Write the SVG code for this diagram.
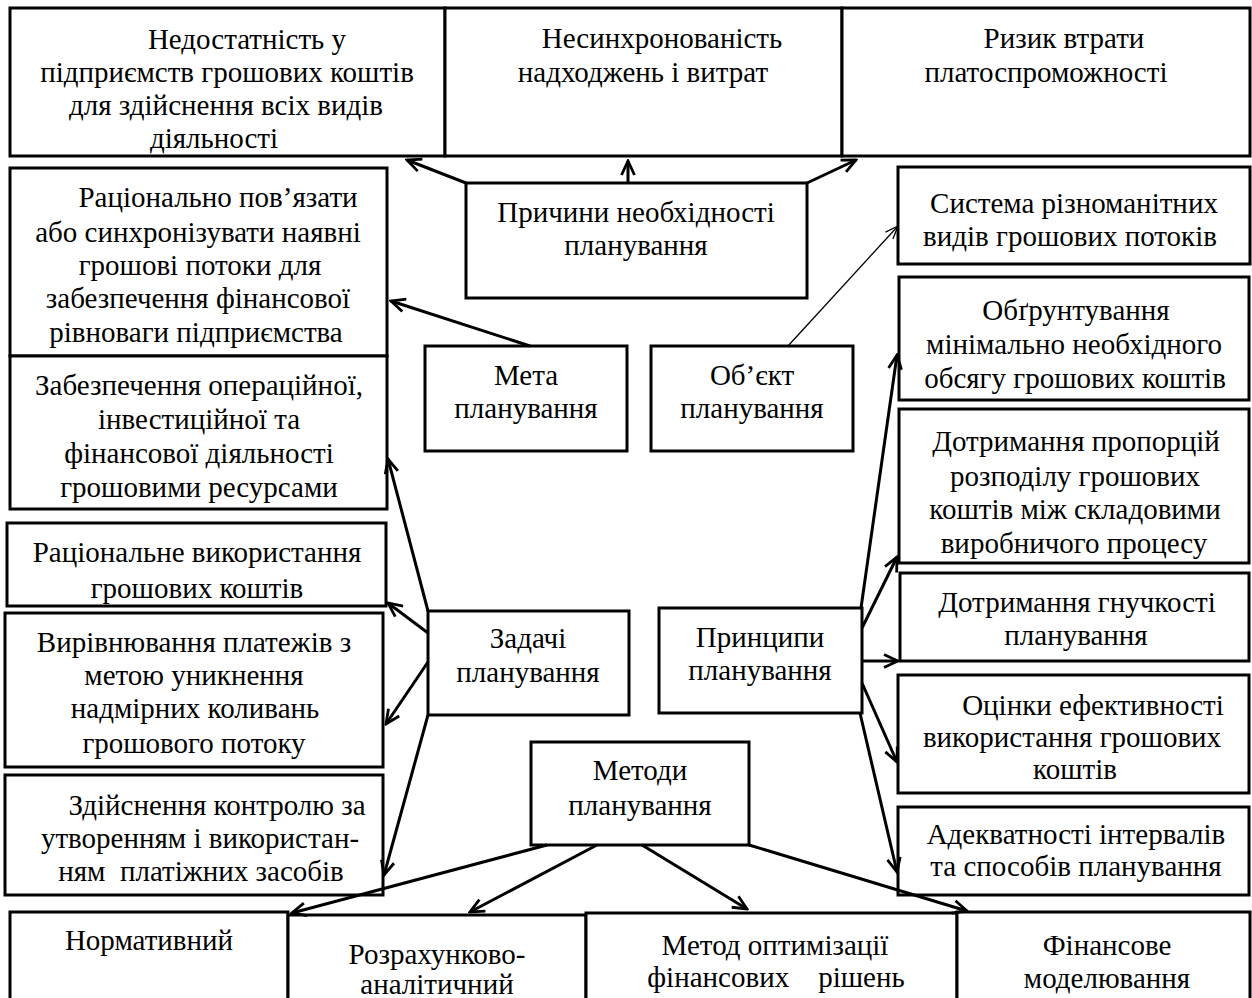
<svg xmlns="http://www.w3.org/2000/svg" width="1252" height="998" viewBox="0 0 1252 998">
<style>
.b{fill:#fff;stroke:#000;stroke-width:3}
.t{font-family:'Liberation Serif','DejaVu Serif',serif;font-size:29px;fill:#000;text-anchor:middle}
.c{fill:none;stroke:#000;stroke-width:3;marker-end:url(#ah)}
.cn{fill:none;stroke:#000;stroke-width:1.3;marker-end:url(#ahn)}
</style>
<defs>
<marker id="ah" markerUnits="userSpaceOnUse" viewBox="0 0 18 16" markerWidth="18" markerHeight="16" refX="16" refY="8" orient="auto">
<path d="M2,1.5 L16,8 L2,14.5" fill="none" stroke="#000" stroke-width="2.8"/>
</marker>
<marker id="ahn" markerUnits="userSpaceOnUse" viewBox="0 0 16 12" markerWidth="16" markerHeight="12" refX="14" refY="6" orient="auto">
<path d="M1,1 L14,6 L1,11" fill="none" stroke="#000" stroke-width="1.3"/>
</marker>
<clipPath id="clZab"><rect x="10" y="356" width="377" height="152"/></clipPath>
<clipPath id="clRv"><rect x="7" y="523" width="379" height="82"/></clipPath>
<clipPath id="clVyr"><rect x="5" y="613" width="378" height="153"/></clipPath>
</defs>
<rect x="0" y="0" width="1252" height="998" fill="#fff"/>

<g id="n-nedostatnist">
<rect class="b" x="10" y="8" width="435" height="148"/>
<text class="t" font-family="Liberation Serif, serif" x="247" y="49">Недостатність у</text>
<text class="t" x="227" y="82">підприємств грошових коштів</text>
<text class="t" x="226" y="115">для здійснення всіх видів</text>
<text class="t" x="214" y="148">діяльності</text>
</g>
<g id="n-nesynkhron">
<rect class="b" x="445" y="8" width="397" height="148"/>
<text class="t" x="662" y="48">Несинхронованість</text>
<text class="t" x="643" y="82">надходжень і витрат</text>
</g>
<g id="n-ryzyk">
<rect class="b" x="842" y="8" width="408" height="148"/>
<text class="t" x="1064" y="48">Ризик втрати</text>
<text class="t" x="1046" y="82">платоспроможності</text>
</g>
<g id="n-prychyny">
<rect class="b" x="466" y="183" width="341" height="115"/>
<text class="t" x="636" y="222">Причини необхідності</text>
<text class="t" x="636" y="255">планування</text>
</g>
<g id="n-ratsionalno">
<rect class="b" x="10" y="168" width="377" height="188"/>
<text class="t" x="218" y="207">Раціонально пов’язати</text>
<text class="t" x="198" y="242">або синхронізувати наявні</text>
<text class="t" x="200" y="275">грошові потоки для</text>
<text class="t" x="198" y="308">забезпечення фінансової</text>
<text class="t" x="196" y="342">рівноваги підприємства</text>
</g>
<g id="n-zabezpechennia">
<rect class="b" x="10" y="356" width="377" height="153"/>
<g clip-path="url(#clZab)">
<text class="t" x="199" y="395">Забезпечення операційної,</text>
<text class="t" x="199" y="429">інвестиційної та</text>
<text class="t" x="199" y="463">фінансової діяльності</text>
<text class="t" x="199" y="497">грошовими ресурсами</text>
</g>
</g>
<g id="n-ratsionalne">
<rect class="b" x="7" y="523" width="379" height="83"/>
<g clip-path="url(#clRv)">
<text class="t" x="197" y="562">Раціональне використання</text>
<text class="t" x="197" y="598">грошових коштів</text>
</g>
</g>
<g id="n-vyrivniuvannia">
<rect class="b" x="5" y="613" width="378" height="154"/>
<g clip-path="url(#clVyr)">
<text class="t" x="194" y="652">Вирівнювання платежів з</text>
<text class="t" x="194" y="685">метою уникнення</text>
<text class="t" x="195" y="718">надмірних коливань</text>
<text class="t" x="194" y="753">грошового потоку</text>
</g>
</g>
<g id="n-kontrol">
<rect class="b" x="5" y="775" width="378" height="120"/>
<text class="t" x="217" y="815">Здійснення контролю за</text>
<text class="t" x="200" y="848">утворенням і використан-</text>
<text class="t" x="201" y="881" xml:space="preserve">ням  платіжних засобів</text>
</g>
<g id="n-meta">
<rect class="b" x="425" y="346" width="202" height="105"/>
<text class="t" x="526" y="385">Мета</text>
<text class="t" x="526" y="418">планування</text>
</g>
<g id="n-obiekt">
<rect class="b" x="651" y="346" width="202" height="105"/>
<text class="t" x="752" y="385">Об’єкт</text>
<text class="t" x="752" y="418">планування</text>
</g>
<g id="n-zadachi">
<rect class="b" x="428" y="611" width="201" height="104"/>
<text class="t" x="528" y="648">Задачі</text>
<text class="t" x="528" y="682">планування</text>
</g>
<g id="n-pryntsypy">
<rect class="b" x="659" y="608" width="203" height="105"/>
<text class="t" x="760" y="647">Принципи</text>
<text class="t" x="760" y="680">планування</text>
</g>
<g id="n-metody">
<rect class="b" x="531" y="742" width="218" height="103"/>
<text class="t" x="640" y="780">Методи</text>
<text class="t" x="640" y="815">планування</text>
</g>
<g id="n-systema">
<rect class="b" x="898" y="167" width="352" height="97"/>
<text class="t" x="1074" y="213">Система різноманітних</text>
<text class="t" x="1070" y="246">видів грошових потоків</text>
</g>
<g id="n-obgruntuvannia">
<rect class="b" x="899" y="277" width="350" height="123"/>
<text class="t" x="1076" y="320">Обґрунтування</text>
<text class="t" x="1074" y="354">мінімально необхідного</text>
<text class="t" x="1075" y="388">обсягу грошових коштів</text>
</g>
<g id="n-proportsii">
<rect class="b" x="899" y="409" width="350" height="154"/>
<text class="t" x="1076" y="451">Дотримання пропорцій</text>
<text class="t" x="1075" y="486">розподілу грошових</text>
<text class="t" x="1075" y="519">коштів між складовими</text>
<text class="t" x="1074" y="553">виробничого процесу</text>
</g>
<g id="n-hnuchkist">
<rect class="b" x="900" y="573" width="349" height="88"/>
<text class="t" x="1077" y="612">Дотримання гнучкості</text>
<text class="t" x="1076" y="645">планування</text>
</g>
<g id="n-otsinky">
<rect class="b" x="898" y="675" width="351" height="118"/>
<text class="t" x="1093" y="715">Оцінки ефективності</text>
<text class="t" x="1072" y="747">використання грошових</text>
<text class="t" x="1075" y="779">коштів</text>
</g>
<g id="n-adekvatnist">
<rect class="b" x="898" y="807" width="351" height="88"/>
<text class="t" x="1076" y="844">Адекватності інтервалів</text>
<text class="t" x="1076" y="876">та способів планування</text>
</g>
<g id="n-normatyvnyi">
<rect class="b" x="10" y="912" width="278" height="100"/>
<text class="t" x="149" y="950">Нормативний</text>
</g>
<g id="n-rozrakhunkovo">
<rect class="b" x="288" y="915" width="298" height="100"/>
<text class="t" x="437" y="964">Розрахунково-</text>
<text class="t" x="437" y="994">аналітичний</text>
</g>
<g id="n-optymizatsiia">
<rect class="b" x="586" y="913" width="371" height="100"/>
<text class="t" x="775" y="955">Метод оптимізації</text>
<text class="t" x="776" y="987" xml:space="preserve">фінансових    рішень</text>
</g>
<g id="n-modeliuvannia">
<rect class="b" x="957" y="912" width="293" height="100"/>
<text class="t" x="1107" y="955">Фінансове</text>
<text class="t" x="1107" y="988">моделювання</text>
</g>

<g id="connectors">
<line class="c" x1="466" y1="183" x2="407" y2="160"/>
<line class="c" x1="628" y1="183" x2="628" y2="161"/>
<line class="c" x1="807" y1="183" x2="856" y2="160"/>
<line class="c" x1="530" y1="346" x2="391" y2="301"/>
<line class="cn" x1="788" y1="346" x2="898" y2="226"/>
<line class="c" x1="428" y1="611" x2="388" y2="459"/>
<line class="c" x1="428" y1="633" x2="388" y2="603"/>
<line class="c" x1="428" y1="662" x2="386" y2="724"/>
<line class="c" x1="428" y1="715" x2="384" y2="875"/>
<line class="c" x1="861" y1="608" x2="897" y2="355"/>
<line class="c" x1="862" y1="628" x2="897" y2="557"/>
<line class="c" x1="862" y1="661" x2="898" y2="661"/>
<line class="c" x1="862" y1="683" x2="897" y2="762"/>
<line class="c" x1="860" y1="713" x2="897" y2="872"/>
<line class="c" x1="547" y1="845" x2="292" y2="913"/>
<line class="c" x1="597" y1="845" x2="470" y2="912"/>
<line class="c" x1="642" y1="845" x2="747" y2="909"/>
<line class="c" x1="749" y1="845" x2="967" y2="911"/>
</g>
</svg>
